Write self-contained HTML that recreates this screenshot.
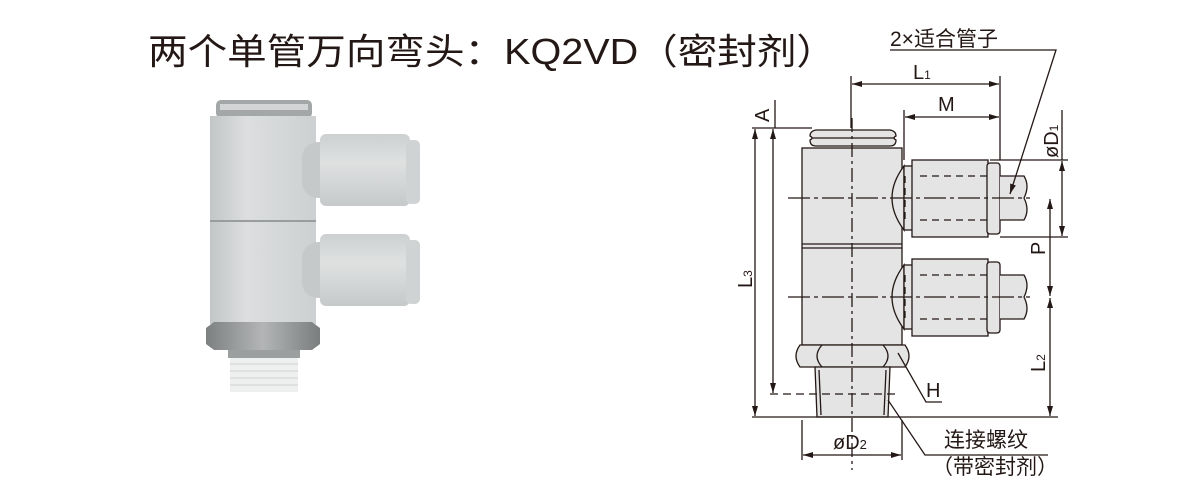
<!DOCTYPE html>
<html><head><meta charset="utf-8"><style>
html,body{margin:0;padding:0;background:#fff;}
svg{display:block;}
text{font-family:"Liberation Sans","Noto Sans CJK SC",sans-serif;fill:#231815;}
</style></head><body>
<svg width="1200" height="500" viewBox="0 0 1200 500" xmlns="http://www.w3.org/2000/svg">
<defs>
<linearGradient id="g1" x1="0" x2="1" y1="0" y2="0">
<stop offset="0" stop-color="#c3c6c7"/><stop offset="0.35" stop-color="#dcdedf"/><stop offset="1" stop-color="#cdd0d1"/></linearGradient>
<linearGradient id="g2" x1="0" x2="0" y1="0" y2="1">
<stop offset="0" stop-color="#cdd0d1"/><stop offset="0.4" stop-color="#dfe1e1"/><stop offset="1" stop-color="#c6c9ca"/></linearGradient>
<linearGradient id="gm" x1="0" x2="1" y1="0" y2="0">
<stop offset="0" stop-color="#7d8081"/><stop offset="0.5" stop-color="#b3b5b6"/><stop offset="1" stop-color="#7a7d7e"/></linearGradient>
<marker id="ar" viewBox="0 0 10 6" refX="10" refY="3" markerWidth="10" markerHeight="6" orient="auto-start-reverse" markerUnits="userSpaceOnUse"><path d="M0,0 L10,3 L0,6 z" fill="#231815"/></marker>
</defs>

<text x="148" y="64" font-size="36" textLength="688" lengthAdjust="spacingAndGlyphs">两个单管万向弯头：KQ2VD（密封剂）</text>

<!-- photo -->
<rect x="216" y="100" width="96" height="18" rx="5" fill="#a4a7a8"/>
<rect x="220" y="104" width="88" height="6" fill="#d2d4d5"/>
<rect x="210" y="116" width="106" height="104" fill="url(#g1)"/>
<rect x="210" y="222" width="106" height="102" fill="url(#g1)"/>
<line x1="210" y1="221" x2="316" y2="221" stroke="#9a9d9e" stroke-width="2"/>
<rect x="302" y="142" width="36" height="56" rx="16" fill="#c6c9ca"/>
<rect x="320" y="134" width="90" height="72" rx="6" fill="url(#g2)"/>
<rect x="406" y="140" width="14" height="64" rx="5" fill="#d0d3d3"/>
<rect x="302" y="242" width="36" height="56" rx="16" fill="#c6c9ca"/>
<rect x="320" y="234" width="90" height="72" rx="6" fill="url(#g2)"/>
<rect x="406" y="240" width="14" height="64" rx="5" fill="#d0d3d3"/>
<path d="M206,328 L214,322 L312,322 L320,328 L320,344 L312,350 L214,350 L206,344 z" fill="url(#gm)"/>
<rect x="228" y="350" width="72" height="8" fill="#9c9fa0"/>
<rect x="230" y="358" width="68" height="34" fill="#eef0f0"/>
<g stroke="#d8dbdc" stroke-width="1.5"><line x1="230" y1="364" x2="298" y2="364"/><line x1="230" y1="371" x2="298" y2="371"/><line x1="230" y1="378" x2="298" y2="378"/><line x1="230" y1="385" x2="298" y2="385"/></g>

<!-- drawing -->
<g stroke="#231815" stroke-width="1.3" fill="none">
<path d="M816,130 L890,130 Q896,131 896,136 Q892,138 896,140 Q896,146 890,146 L816,146 Q810,146 810,140 Q814,138 810,136 Q810,131 816,130z" fill="#e4e4e4"/>
<line x1="812" y1="138" x2="894" y2="138"/>
<rect x="802" y="148" width="100" height="197" fill="#e4e4e4"/>
<line x1="802" y1="244" x2="902" y2="244"/><line x1="802" y1="248" x2="902" y2="248"/>
<g id="port">
<path d="M904,166 Q880,198 904,230z" fill="#e4e4e4"/>
<rect x="904" y="166" width="10" height="64" fill="#e4e4e4"/>
<rect x="912" y="160" width="76" height="77" fill="#e4e4e4"/>
<rect x="987" y="163" width="13" height="71" rx="3" fill="#e4e4e4"/>
<path d="M1000,176 L1024,176 Q1030,186 1024,198 Q1030,210 1024,220 L1000,220" fill="#e4e4e4"/>
<path d="M920,176 L987,176 M920,220 L987,220 M905,176 L905,220" stroke-dasharray="7,5"/>
</g>
<use href="#port" transform="translate(0,99)"/>
<path d="M800,345 L905,345 Q913,356 905,367 L800,367 Q792,356 800,345z" fill="#e4e4e4"/>
<path d="M822,345 Q812,356 822,367 M883,345 Q893,356 883,367"/>
<path d="M815,367 L890,367 L888,417 L817,417z" fill="#e4e4e4"/>
<line x1="819" y1="370" x2="821" y2="415"/><line x1="886" y1="370" x2="884" y2="415"/>
<line x1="852" y1="118" x2="852" y2="470" stroke-dasharray="14,4,3,4"/>
<line x1="788" y1="198" x2="1030" y2="198" stroke-dasharray="22,4,4,4"/>
<line x1="788" y1="297" x2="1030" y2="297" stroke-dasharray="22,4,4,4"/>
<line x1="770" y1="394" x2="895" y2="394" stroke-dasharray="8,5"/>
<line x1="752" y1="128" x2="812" y2="128"/>
<line x1="752" y1="417" x2="1058" y2="417"/>
<line x1="775" y1="100" x2="775" y2="128"/>
<line x1="755" y1="129" x2="755" y2="416" marker-start="url(#ar)" marker-end="url(#ar)"/>
<line x1="773" y1="129" x2="773" y2="393" marker-start="url(#ar)" marker-end="url(#ar)"/>
<line x1="851" y1="76" x2="851" y2="128"/>
<line x1="1000" y1="76" x2="1000" y2="160"/>
<line x1="904" y1="110" x2="904" y2="160"/>
<line x1="852" y1="84" x2="999" y2="84" marker-start="url(#ar)" marker-end="url(#ar)"/>
<line x1="905" y1="117" x2="999" y2="117" marker-start="url(#ar)" marker-end="url(#ar)"/>
<line x1="990" y1="160" x2="1068" y2="160"/><line x1="1000" y1="237" x2="1068" y2="237"/>
<line x1="1062" y1="110" x2="1062" y2="160"/>
<line x1="1062" y1="161" x2="1062" y2="236" marker-start="url(#ar)" marker-end="url(#ar)"/>
<line x1="1050" y1="199" x2="1050" y2="296" marker-start="url(#ar)" marker-end="url(#ar)"/>
<line x1="1050" y1="298" x2="1050" y2="416" marker-start="url(#ar)" marker-end="url(#ar)"/>
<line x1="802" y1="420" x2="802" y2="460"/><line x1="902" y1="420" x2="902" y2="460"/>
<line x1="803" y1="455" x2="901" y2="455" marker-start="url(#ar)" marker-end="url(#ar)"/>
<polyline points="890,50 1056,50 1010,194" marker-end="url(#ar)"/>
<polyline points="898,353 926,402 942,402"/>
<polyline points="888,400 925,455 1048,455"/>
</g>
<g font-size="20">
<text x="890" y="46" font-size="21">2×适合管子</text>
<text x="913" y="79">L<tspan font-size="12">1</tspan></text>
<text x="938" y="111">M</text>
<text x="926" y="397">H</text>
<text x="833" y="449">øD<tspan font-size="13">2</tspan></text>
<text x="944" y="447" font-size="21">连接螺纹</text>
<text x="932" y="474" font-size="21">（带密封剂）</text>
<text transform="translate(769,122) rotate(-90)">A</text>
<text transform="translate(752,288) rotate(-90)">L<tspan font-size="12">3</tspan></text>
<text transform="translate(1058,158) rotate(-90)">øD<tspan font-size="12">1</tspan></text>
<text transform="translate(1045,255) rotate(-90)">P</text>
<text transform="translate(1045,372) rotate(-90)">L<tspan font-size="12">2</tspan></text>
</g>
</svg>
</body></html>
